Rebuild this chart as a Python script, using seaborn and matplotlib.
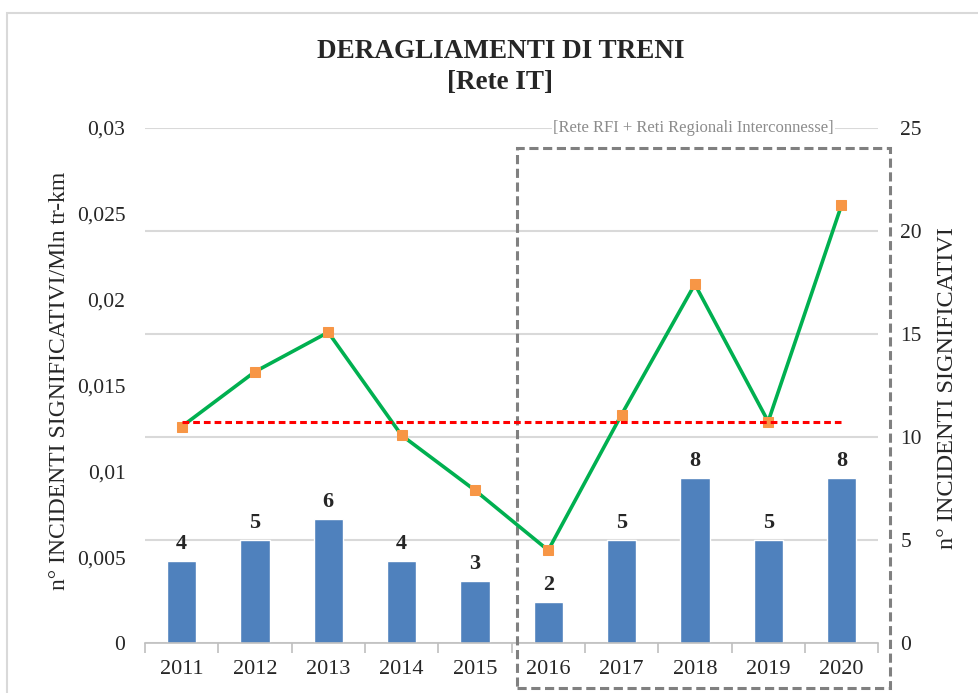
import matplotlib
matplotlib.use('Agg')
import matplotlib.pyplot as plt
import seaborn as sns
import numpy as np
import pandas as pd
from matplotlib.patches import Rectangle
from matplotlib.ticker import FixedLocator, FuncFormatter

anni = ['2011', '2012', '2013', '2014', '2015', '2016', '2017', '2018', '2019', '2020']
incidenti = [4, 5, 6, 4, 3, 2, 5, 8, 5, 8]
tasso = [0.0126, 0.0158, 0.0181, 0.0121, 0.0089, 0.0054, 0.0133, 0.0209, 0.0129, 0.0255]
riferimento = 0.0129

df = pd.DataFrame({'Anno': anni, 'Incidenti': incidenti, 'Tasso': tasso})
df['pos'] = np.arange(len(df))

sns.set_theme(style="white")
plt.rcParams['font.family'] = ['Liberation Serif', 'DejaVu Serif']

fig = plt.figure(figsize=(9.79, 6.93), dpi=100)
ax_bar = fig.add_axes([0.148, 0.0722, 0.749, 0.7431])
ax_line = ax_bar.twinx()

# barre sull'asse destro
sns.barplot(data=df, x='Anno', y='Incidenti', color='#4F81BD', saturation=1,
            width=0.4, ax=ax_bar, zorder=2)
ax_bar.set_ylim(0, 25)
ax_bar.yaxis.set_major_locator(FixedLocator([0, 5, 10, 15, 20, 25]))
ax_bar.yaxis.tick_right()
ax_bar.yaxis.set_label_position('right')
ax_bar.grid(axis='y', color='#d9d9d9', linewidth=1.5)
ax_bar.set_axisbelow(True)
for c in ax_bar.containers:
    ax_bar.bar_label(c, padding=5, fontsize=16, fontweight='bold')

# linea sull'asse sinistro
sns.lineplot(data=df, x='pos', y='Tasso', color='#00B050', linewidth=2.6,
             marker='s', markersize=7, markerfacecolor='#F79646',
             markeredgecolor='#F79646', ax=ax_line, zorder=3)
sns.lineplot(x=[df['pos'].iloc[0], df['pos'].iloc[-1]], y=[riferimento, riferimento],
             color='#FF0000', linewidth=2.2, dashes=(2.2, 1.3), ax=ax_line, zorder=4)
ax_line.set_ylim(0, 0.03)
ax_line.yaxis.set_major_locator(FixedLocator([0, 0.005, 0.01, 0.015, 0.02, 0.025, 0.03]))
ax_line.yaxis.tick_left()
ax_line.yaxis.set_label_position('left')
ax_line.yaxis.set_major_formatter(FuncFormatter(
    lambda v, p: '0' if v == 0 else ('%g' % v).replace('.', ',')))
ax_line.set_zorder(ax_bar.get_zorder() + 1)
ax_line.patch.set_visible(False)
ax_line.set_xlim(-0.5, len(anni) - 0.5)

for a in (ax_bar, ax_line):
    for s in ('left', 'right', 'top'):
        a.spines[s].set_visible(False)
ax_line.tick_params(axis='y', length=0, labelsize=15.5, pad=14)
ax_bar.tick_params(axis='y', length=0, labelsize=15.5, pad=16)
ax_line.spines['bottom'].set_visible(False)
ax_bar.spines['bottom'].set_color('#bfbfbf')
ax_bar.spines['bottom'].set_linewidth(1.2)

ax_bar.set_xlabel('')
ax_bar.tick_params(axis='x', which='major', length=0, labelsize=16, pad=12)
ax_bar.xaxis.set_minor_locator(FixedLocator(np.arange(len(anni) + 1) - 0.5))
ax_bar.tick_params(axis='x', which='minor', length=7, color='#bfbfbf', width=1.2, bottom=True)
ax_line.tick_params(axis='x', bottom=False, labelbottom=False)

ax_bar.set_ylabel('n° INCIDENTI SIGNIFICATIVI', fontsize=17.5, rotation=90)
ax_bar.yaxis.set_label_coords(1.08, 0.495)
ax_line.set_ylabel('n° INCIDENTI SIGNIFICATIVI/Mln tr-km', fontsize=17)
ax_line.yaxis.set_label_coords(-0.102, 0.509)

# riquadro tratteggiato 2016-2020
ax_bar.add_patch(Rectangle((0.5075, -0.087), 0.508, 1.048, transform=ax_bar.transAxes,
                           fill=False, edgecolor='#808080', linewidth=2.2,
                           linestyle=(0, (3, 1.5)), clip_on=False, zorder=5))
ax_bar.text(0.748, 1.0, '[Rete RFI + Reti Regionali Interconnesse]', transform=ax_bar.transAxes,
            ha='center', va='center', fontsize=12, color='#8c8c8c',
            bbox=dict(facecolor='white', edgecolor='none', pad=1), zorder=6)

fig.text(0.511, 0.903, 'DERAGLIAMENTI DI TRENI\n[Rete IT]', ha='center', va='center',
         fontsize=19.5, fontweight='bold', linespacing=1.29)

fig.patches.append(Rectangle((7 / 979, -0.05), 1.2, 1 - 13 / 693 + 0.05,
                             transform=fig.transFigure, fill=False,
                             edgecolor='#d9d9d9', linewidth=1.5))

fig.savefig('out.png', dpi=100)
